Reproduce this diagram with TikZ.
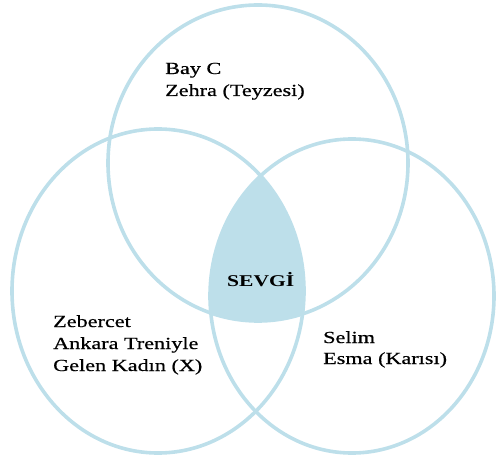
\documentclass[tikz,border=0pt]{standalone}
\usepackage{fontspec}
\setmainfont{Liberation Serif}[FakeStretch=1.31]
\newfontfamily\lblfont{Liberation Serif}[FakeStretch=1.31,FakeBold=0.6]
\definecolor{vennblue}{RGB}{189,223,234}
\begin{document}
\begin{tikzpicture}[x=1bp,y=-1bp,
  ring/.style={draw=vennblue,line width=3.6bp},
  lbl/.style={anchor=base west,inner sep=0pt,font=\lblfont\fontsize{17}{22}\selectfont,text=black},
  core/.style={anchor=base west,inner sep=0pt,font=\fontsize{16.5}{20}\selectfont\bfseries,text=black}]
\useasboundingbox (0,0) rectangle (496,459);
\begin{scope}
  \clip (258,163) ellipse [x radius=150bp, y radius=158bp];
  \clip (158,291) ellipse [x radius=146bp, y radius=162bp];
  \fill[vennblue] (352,296) ellipse [x radius=142bp, y radius=157bp];
\end{scope}
\draw[ring] (258,163) ellipse [x radius=150bp, y radius=158bp];
\draw[ring] (158,291) ellipse [x radius=146bp, y radius=162bp];
\draw[ring] (352,296) ellipse [x radius=142bp, y radius=157bp];
\node[lbl] (bay) at (165,74) {Bay C};
\node[lbl] (zehra) at (165,96) {Zehra (Teyzesi)};
\node[lbl] (zeb) at (53,327) {Zebercet};
\node[lbl] (ank) at (53,349) {Ankara Treniyle};
\node[lbl] (gel) at (53,371) {Gelen Kadın (X)};
\node[lbl] (selim) at (323,343) {Selim};
\node[lbl] (esma) at (323,364) {Esma (Karısı)};
\node[core] (sevgi) at (227,286) {SEVGİ};
\end{tikzpicture}
\end{document}
